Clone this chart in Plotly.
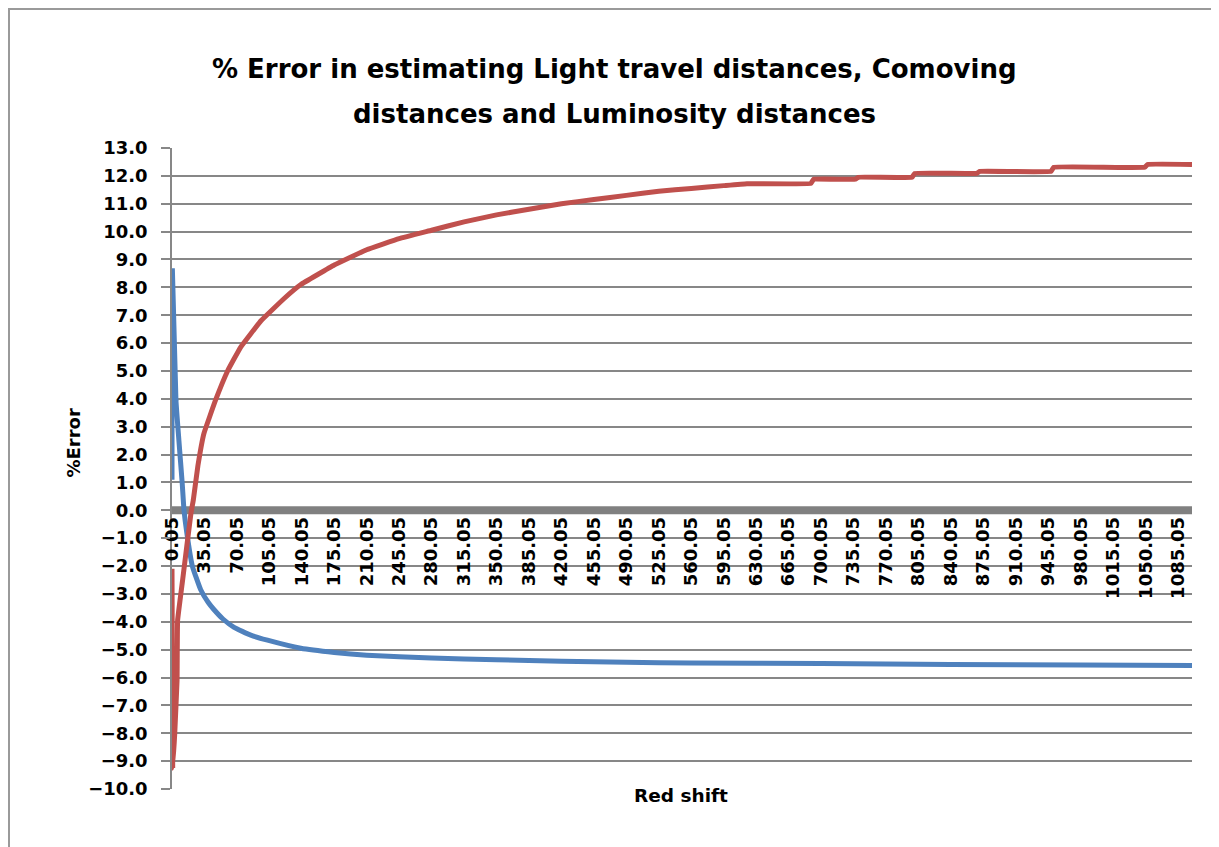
import plotly.graph_objects as go

# ---- data ----
redshift_ticks = [0.05 + 35 * i for i in range(32)]
tick_labels = [f"{v:.2f}" for v in redshift_ticks]

light_x = [0.05, 1100]
light_y = [0.0, 0.0]

blue_x = [0.05, 0.5, 4.3, 7.5, 11, 13, 16, 22, 31, 39, 45, 55, 67, 85, 103,
          139, 175, 210, 280, 350, 420, 490, 560, 700, 840, 980, 1100]
blue_y = [1.1, 8.6, 3.95, 2.5, 1.0, 0.0, -0.8, -2.0, -2.85, -3.3, -3.55,
          -3.9, -4.2, -4.48, -4.66, -4.95, -5.1, -5.2, -5.3, -5.36, -5.42,
          -5.45, -5.48, -5.5, -5.53, -5.55, -5.57]

red_x = [0.05, 0.8, 3, 5.5, 6.1, 11.5, 20.5, 23, 28, 34.5, 47, 60, 74, 96, 121,
         139, 175, 210, 245, 280, 315, 350, 385, 420, 455, 490, 525, 560, 595,
         620, 689, 692, 737, 740, 798, 801, 868, 871, 948, 951, 1049, 1052, 1100]
red_y = [-2.1, -9.25, -8.0, -6.1, -3.95, -2.5, -0.1, 0.36, 1.6, 2.76, 3.95,
         5.0, 5.85, 6.8, 7.6, 8.1, 8.8, 9.35, 9.75, 10.05, 10.35, 10.6, 10.8,
         11.0, 11.15, 11.3, 11.45, 11.55, 11.65, 11.72, 11.73, 11.88, 11.88,
         11.95, 11.95, 12.09, 12.09, 12.16, 12.16, 12.31, 12.31, 12.41, 12.41]

# ---- layout geometry (page pixels; the page body has an 8px offset) ----
OFF = 8
W, H = 1219, 847
L, R, T, B = 172, 1192, 148, 789
pw, ph = R - L, B - T


def px_x(p):
    return (p - L) / pw


def px_y(p):
    return (B - p) / ph


GRID = "#878787"
FONT = "DejaVu Sans"

fig = go.Figure()
fig.add_trace(go.Scatter(x=light_x, y=light_y, mode="lines",
                         line=dict(color="#808080", width=8),
                         name="Light travel", hoverinfo="skip"))
fig.add_trace(go.Scatter(x=blue_x, y=blue_y, mode="lines",
                         line=dict(color="#4F81BD", width=5, shape="spline", smoothing=0.4),
                         name="Comoving"))
fig.add_trace(go.Scatter(x=red_x, y=red_y, mode="lines",
                         line=dict(color="#C0504D", width=5, shape="spline", smoothing=0.25),
                         name="Luminosity"))

yr = [-10, 13]
fig.update_layout(
    width=W, height=H,
    margin=dict(l=L - OFF, r=W + OFF - R, t=T - OFF, b=H + OFF - B, pad=0),
    paper_bgcolor="white", plot_bgcolor="white",
    showlegend=False,
    font=dict(family=FONT, color="black"),
    xaxis=dict(
        range=[0.05, 1100], anchor="free", position=10 / 23,
        tickmode="array", tickvals=redshift_ticks, ticktext=tick_labels,
        tickangle=-90, tickfont=dict(family=FONT, size=18, color="black", weight="bold"),
        showgrid=False, zeroline=False, showline=False, ticks="",
        ticklabelstandoff=2,
    ),
    yaxis=dict(
        range=yr, dtick=1, tick0=0, tickformat=".1f",
        showgrid=True, gridcolor=GRID, gridwidth=1.5,
        zeroline=False, showline=True, linecolor=GRID, linewidth=1.5,
        ticks="outside", ticklen=9, tickcolor=GRID, tickwidth=1.5,
        tickfont=dict(family=FONT, size=18, color="black", weight="bold"),
        ticklabelstandoff=10,
    ),
)

ann_font = dict(family=FONT, color="black", weight="bold")
fig.add_annotation(text="% Error in estimating Light travel distances, Comoving",
                   xref="paper", yref="paper", x=px_x(614), y=px_y(52),
                   showarrow=False, font=dict(size=26, **ann_font))
fig.add_annotation(text="distances and Luminosity distances",
                   xref="paper", yref="paper", x=px_x(614), y=px_y(97),
                   showarrow=False, font=dict(size=26, **ann_font))
fig.add_annotation(text="%Error", xref="paper", yref="paper",
                   x=px_x(60), y=px_y(443), textangle=-90,
                   showarrow=False, font=dict(size=18, **ann_font))
fig.add_annotation(text="Red shift", xref="paper", yref="paper",
                   x=px_x(681), y=px_y(808),
                   showarrow=False, font=dict(size=18.5, **ann_font))

# chart outer frame
fig.add_shape(type="rect", xref="paper", yref="paper",
              x0=px_x(9), x1=px_x(1260), y0=px_y(900), y1=px_y(9),
              line=dict(color="#9a9a9a", width=2), layer="below")

fig.write_html("out.html")
